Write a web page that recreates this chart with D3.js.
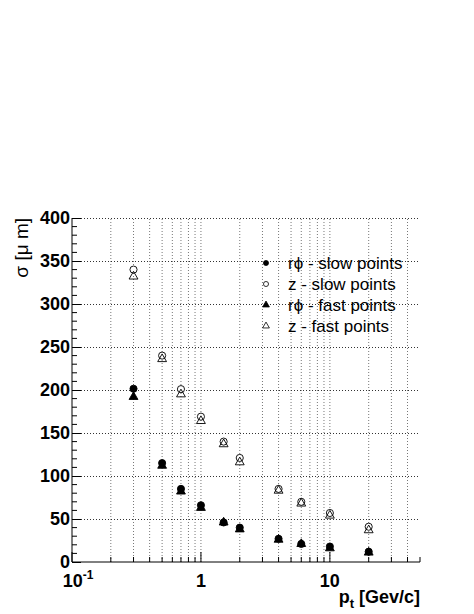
<!DOCTYPE html>
<html>
<head>
<meta charset="utf-8">
<script src="https://cdn.jsdelivr.net/npm/d3@7"></script>
<style>
  body { margin: 0; background: #fff; }
  svg { display: block; font-family: "Liberation Sans", Arial, sans-serif; }
</style>
</head>
<body>
<svg id="chart"></svg>
<script>
// pt values of the measurement points
const ptValues = [0.3, 0.5, 0.7, 1, 1.5, 2, 4, 6, 10, 20];

// resolution (micrometre) per series
const rphiSlow = [201.5, 115, 85, 66, 46, 40, 27, 21, 18, 12];
const zSlow = [340, 240, 201, 169, 140, 121, 85, 70, 57, 41];
const rphiFast = [192, 112, 82, 63, 46, 38, 26, 21, 16, 11];
const zFast = [332, 236, 195, 164, 137, 116, 83, 68, 54, 37];

const legendLabels = ['r\u03D5 - slow points', 'z - slow points', 'r\u03D5 - fast points', 'z - fast points'];
const yTicks = [0, 50, 100, 150, 200, 250, 300, 350, 400];

const width = 474;
const height = 614;
const margin = { top: 218, right: 54, bottom: 52, left: 72 };

const svg = d3.select('#chart')
    .attr('width', width)
    .attr('height', height);

const x = d3.scaleLog()
    .domain([0.1, 50])
    .range([margin.left, width - margin.right]);

const y = d3.scaleLinear()
    .domain([0, 400])
    .range([height - margin.bottom, margin.top]);

// log tick positions: 0.1..0.9, 1..9, 10..50
const logTicks = [];
[0.1, 1, 10].forEach(dec => {
    for (let k = 1; k <= 9; k++) {
        const v = dec * k;
        if (v <= 50.0001) logTicks.push(+v.toPrecision(3));
    }
});
const majorX = [0.1, 1, 10];

// grid
const grid = svg.append('g');
grid.selectAll('.vgrid')
    .data(logTicks.filter(d => d > 0.1 && d < 50))
    .join('line')
    .attr('x1', d => x(d)).attr('x2', d => x(d))
    .attr('y1', y(0)).attr('y2', y(400))
    .attr('stroke', '#777')
    .attr('stroke-width', 1)
    .attr('stroke-dasharray', '1,2');

grid.selectAll('.hgrid')
    .data(yTicks.filter(d => d > 0))
    .join('line')
    .attr('x1', x(0.1)).attr('x2', x(50))
    .attr('y1', d => Math.round(y(d)) + 0.5).attr('y2', d => Math.round(y(d)) + 0.5)
    .attr('stroke', '#333')
    .attr('stroke-width', 1)
    .attr('stroke-dasharray', '1,2');

// y axis
const yAxis = d3.axisLeft(y)
    .tickValues(yTicks)
    .tickSize(-9)
    .tickPadding(2)
    .tickFormat(d3.format('d'));

const yAxisG = svg.append('g')
    .attr('transform', `translate(${margin.left},0)`)
    .call(yAxis);
yAxisG.select('.domain').remove();
yAxisG.selectAll('text')
    .attr('font-size', 18)
    .attr('font-weight', 'bold')
    .attr('fill', '#000');

svg.append('g')
    .selectAll('line')
    .data(d3.range(0, 401, 10).filter(d => d % 50 !== 0))
    .join('line')
    .attr('x1', margin.left).attr('x2', margin.left + 5)
    .attr('y1', d => y(d)).attr('y2', d => y(d))
    .attr('stroke', '#000');

svg.append('line')
    .attr('x1', margin.left).attr('x2', margin.left)
    .attr('y1', y(0)).attr('y2', y(400))
    .attr('stroke', '#000');

// x axis
const xAxisG = svg.append('g')
    .attr('transform', `translate(0,${y(0)})`);
xAxisG.selectAll('line')
    .data(logTicks)
    .join('line')
    .attr('x1', d => x(d)).attr('x2', d => x(d))
    .attr('y1', 0)
    .attr('y2', d => majorX.includes(d) ? -10 : -5)
    .attr('stroke', '#000');
xAxisG.append('line')
    .attr('x1', x(0.1)).attr('x2', x(50))
    .attr('stroke', '#000');

const xLabels = xAxisG.selectAll('text.tick')
    .data(majorX)
    .join('text')
    .attr('class', 'tick')
    .attr('x', d => x(d))
    .attr('y', 25)
    .attr('text-anchor', 'middle')
    .attr('font-size', 18)
    .attr('font-weight', 'bold');
xLabels.each(function (d) {
    const t = d3.select(this);
    if (d === 0.1) {
        t.attr('x', x(d) + 6);
        t.append('tspan').text('10');
        t.append('tspan').attr('dy', -8).attr('font-size', 12).text('-1');
    } else {
        t.text(d3.format('d')(d));
    }
});

// axis titles
const xTitle = svg.append('text')
    .attr('x', x(50))
    .attr('y', 603)
    .attr('text-anchor', 'end')
    .attr('font-size', 18)
    .attr('font-weight', 'bold');
xTitle.append('tspan').text('p');
xTitle.append('tspan').attr('dy', 5).attr('font-size', 13).text('t');
xTitle.append('tspan').attr('dy', -5).text(' [Gev/c]');

svg.append('text')
    .attr('transform', `translate(28,${y(400)}) rotate(-90)`)
    .attr('text-anchor', 'end')
    .attr('font-size', 19)
    .text('\u03C3 [\u03BC m]');

// markers
const circle = d3.symbol().type(d3.symbolCircle).size(40);
const triangle = d3.symbol().type(d3.symbolTriangle).size(34);

const series = [
    { values: rphiSlow, sym: circle, fill: '#000', stroke: '#000' },
    { values: zSlow, sym: circle, fill: '#fff', stroke: '#000' },
    { values: rphiFast, sym: triangle, fill: '#000', stroke: '#000' },
    { values: zFast, sym: triangle, fill: 'none', stroke: '#000' }
];

const drawOrder = [1, 3, 2, 0];
drawOrder.forEach(i => {
    const s = series[i];
    svg.append('g')
        .selectAll('path')
        .data(ptValues.map((p, j) => [p, s.values[j]]))
        .join('path')
        .attr('transform', d => `translate(${x(d[0])},${y(d[1])})`)
        .attr('d', s.sym)
        .attr('fill', s.fill)
        .attr('stroke', s.stroke)
        .attr('stroke-width', 0.9);
});

// legend
const legend = svg.append('g')
    .attr('transform', 'translate(266,263)');
const rows = legend.selectAll('g')
    .data(series)
    .join('g')
    .attr('transform', (d, i) => `translate(0,${i * 21})`);
rows.append('path')
    .attr('d', d => d.sym === circle ? d3.symbol().type(d3.symbolCircle).size(20)() : d3.symbol().type(d3.symbolTriangle).size(20)())
    .attr('fill', d => d.fill === 'none' ? '#fff' : d.fill)
    .attr('stroke', '#000')
    .attr('stroke-width', 0.8);
rows.append('text')
    .attr('x', 22)
    .attr('dy', '0.35em')
    .attr('font-size', 17)
    .text((d, i) => legendLabels[i]);
</script>
</body>
</html>
